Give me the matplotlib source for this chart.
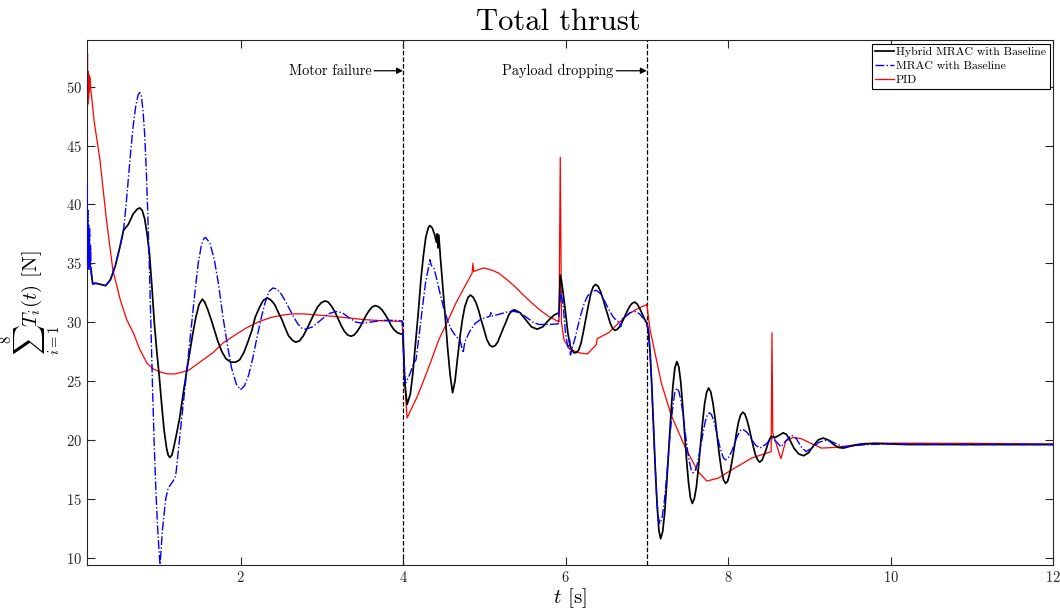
import matplotlib
matplotlib.use("Agg")
import matplotlib.pyplot as plt

plt.rcParams['font.family'] = 'serif'
plt.rcParams['font.serif'] = ['cmr10', 'DejaVu Serif']
plt.rcParams['mathtext.fontset'] = 'cm'
plt.rcParams['axes.formatter.use_mathtext'] = True

# ---------------- data ----------------
hyb_t = [0.11, 0.12, 0.13, 0.14, 0.16, 0.18, 0.22, 0.28, 0.34, 0.40, 0.46, 0.52, 0.56, 0.62, 0.68, 0.73, 0.76,
         0.79, 0.82, 0.85, 0.88, 0.91, 0.94, 0.97, 1.00, 1.03, 1.06, 1.09, 1.11, 1.13, 1.155, 1.18, 1.21,
         1.25, 1.29, 1.33, 1.37, 1.41, 1.45, 1.49, 1.53, 1.56, 1.60, 1.64, 1.68, 1.72, 1.77, 1.82, 1.88,
         1.94, 1.99, 2.04, 2.09, 2.14, 2.18, 2.23, 2.28, 2.33, 2.37, 2.42, 2.46, 2.51, 2.55, 2.59, 2.64,
         2.68, 2.725, 2.77, 2.815, 2.86, 2.905, 2.95, 2.995, 3.04, 3.08, 3.12, 3.16, 3.20, 3.24, 3.28, 3.32,
         3.36, 3.3975, 3.435, 3.4725, 3.51, 3.5475, 3.585, 3.6225, 3.66, 3.70, 3.74, 3.78, 3.82, 3.85, 3.89,
         3.93, 3.97, 4.00, 4.02, 4.05, 4.09, 4.12, 4.15, 4.19, 4.22, 4.25, 4.28, 4.31, 4.33, 4.36, 4.39,
         4.41, 4.42, 4.43, 4.44, 4.46, 4.49, 4.52, 4.55, 4.58, 4.61, 4.64, 4.67, 4.70, 4.73, 4.76, 4.80,
         4.83, 4.864, 4.898, 4.93, 4.965, 5.00, 5.03, 5.066, 5.10, 5.134, 5.168, 5.20, 5.235, 5.27, 5.30,
         5.336, 5.37, 5.44, 5.51, 5.58, 5.65, 5.72, 5.79, 5.86, 5.92, 5.935, 5.95, 5.97, 6.00, 6.03, 6.06,
         6.10, 6.13, 6.16, 6.19, 6.22, 6.25, 6.28, 6.31, 6.34, 6.37, 6.40, 6.43, 6.46, 6.49, 6.52, 6.55,
         6.58, 6.61, 6.64, 6.67, 6.70, 6.73, 6.76, 6.79, 6.82, 6.85, 6.88, 6.91, 6.94, 6.97, 7.00, 7.021,
         7.043, 7.064, 7.085, 7.106, 7.128, 7.149, 7.17, 7.195, 7.22, 7.245, 7.27, 7.295, 7.32, 7.345, 7.37,
         7.394, 7.418, 7.441, 7.465, 7.489, 7.513, 7.536, 7.56, 7.585, 7.61, 7.635, 7.66, 7.685, 7.71, 7.735,
         7.76, 7.786, 7.812, 7.839, 7.865, 7.891, 7.917, 7.944, 7.97, 7.996, 8.022, 8.049, 8.075, 8.101,
         8.128, 8.154, 8.18, 8.206, 8.232, 8.259, 8.285, 8.311, 8.338, 8.364, 8.39, 8.42, 8.46, 8.50, 8.53,
         8.58, 8.63, 8.68, 8.72, 8.76, 8.81, 8.87, 8.93, 8.99, 9.05, 9.11, 9.17, 9.23, 9.30, 9.36, 9.42,
         9.50, 9.60, 9.80, 10.2, 11.0, 12.0]
hyb_v = [38.0, 36.0, 37.5, 35.0, 34.5, 33.3, 33.3, 33.2, 33.1, 33.6, 34.8, 36.5, 37.8, 38.3, 39.2, 39.6, 39.7,
         39.5, 38.8, 37.5, 35.8, 33.0, 29.9, 27.5, 25.4, 23.0, 20.8, 19.3, 18.7, 18.5, 18.7, 19.4, 20.4,
         21.8, 23.7, 25.5, 27.2, 28.9, 30.4, 31.5, 31.95, 31.7, 31.0, 30.2, 29.3, 28.4, 27.5, 26.9, 26.6,
         26.6, 26.8, 27.4, 28.3, 29.3, 30.4, 31.2, 31.85, 32.05, 31.9, 31.5, 30.9, 30.2, 29.5, 28.85, 28.45,
         28.3, 28.4, 28.8, 29.4, 30.05, 30.7, 31.3, 31.65, 31.8, 31.7, 31.35, 30.9, 30.3, 29.7, 29.2, 28.9,
         28.8, 28.9, 29.2, 29.6, 30.1, 30.6, 31.0, 31.3, 31.4, 31.3, 31.05, 30.65, 30.2, 29.75, 29.35,
         29.1, 29.0, 28.95, 25.0, 23.0, 23.9, 25.6, 27.9, 31.0, 33.6, 35.6, 37.2, 38.0, 38.2, 38.0, 37.4,
         36.8, 37.5, 36.3, 37.4, 35.5, 33.0, 30.4, 27.7, 25.5, 24.0, 25.0, 26.9, 28.7, 30.2, 31.3, 32.1,
         32.3, 32.1, 31.65, 31.0, 30.1, 29.3, 28.55, 28.05, 27.9, 28.0, 28.35, 28.9, 29.5, 30.05, 30.6,
         30.95, 31.05, 30.8, 30.2, 29.6, 29.4, 29.6, 30.15, 30.6, 30.8, 34.0, 33.5, 32.5, 30.8, 29.0, 27.9,
         27.4, 27.4, 27.6, 28.2, 29.2, 30.3, 31.4, 32.4, 33.0, 33.2, 33.05, 32.6, 32.0, 31.25, 30.6, 29.9,
         29.45, 29.3, 29.4, 29.65, 30.05, 30.5, 30.95, 31.35, 31.6, 31.7, 31.55, 31.2, 30.75, 30.3, 29.9, 29.2,
         27.2, 24.2, 20.75, 17.3, 14.3, 12.3, 11.6, 12.2, 13.8, 16.3, 19.1, 22.0, 24.5, 26.1, 26.65,
         26.2, 24.9, 22.9, 20.6, 18.3, 16.4, 15.1, 14.6, 15.0, 16.0, 17.6, 19.5, 21.4, 23.0, 24.0,
         24.4, 24.1, 23.2, 21.9, 20.35, 18.8, 17.5, 16.6, 16.3, 16.5, 17.2, 18.2, 19.3, 20.5,
         21.5, 22.1, 22.35, 22.2, 21.7, 21.0, 20.2, 19.4, 18.7, 18.3, 18.1, 18.3, 19.0, 19.9, 20.3,
         20.2, 20.4, 20.6, 20.45, 20.0, 19.3, 18.8, 18.65, 18.9, 19.5, 20.0, 20.15, 20.0, 19.6, 19.35, 19.3,
         19.45, 19.6, 19.7, 19.6, 19.6, 19.6]

mrac_t = [0.11, 0.113, 0.118, 0.123, 0.128, 0.133, 0.138, 0.143, 0.148, 0.155, 0.162, 0.17, 0.184, 0.22,
          0.28, 0.34, 0.40, 0.46, 0.52, 0.56, 0.59, 0.62, 0.65, 0.68, 0.71, 0.74, 0.76, 0.78, 0.80, 0.82,
          0.84, 0.86, 0.88, 0.90, 0.92, 0.94, 0.96, 0.98, 1.00, 1.01, 1.04, 1.08, 1.11, 1.17, 1.20, 1.21,
          1.27, 1.33, 1.39, 1.44, 1.48, 1.52, 1.55, 1.57, 1.624, 1.678, 1.73, 1.785, 1.84, 1.89, 1.95, 2.00,
          2.05, 2.10, 2.15, 2.20, 2.25, 2.30, 2.35, 2.40, 2.45, 2.50, 2.55, 2.60, 2.65, 2.70, 2.75, 2.80,
          2.89, 2.985, 3.08, 3.17, 3.25, 3.33, 3.42, 3.50, 3.60, 3.75, 3.90, 3.99, 4.01, 4.03, 4.08, 4.13,
          4.16, 4.20, 4.24, 4.28, 4.31, 4.33, 4.35, 4.38, 4.41, 4.45, 4.50, 4.55, 4.60, 4.65, 4.70, 4.74,
          4.76, 4.82, 4.89, 4.95, 5.00, 5.07, 5.08, 5.09, 5.20, 5.30, 5.38, 5.45, 5.52, 5.60, 5.67, 5.80,
          5.91, 5.94, 5.97, 6.00, 6.03, 6.05, 6.06, 6.09, 6.12, 6.15, 6.19, 6.23, 6.27, 6.32, 6.38, 6.43,
          6.48, 6.53, 6.58, 6.63, 6.66, 6.68, 6.70, 6.74, 6.79, 6.86, 6.91, 6.96, 7.00, 7.02, 7.04, 7.06,
          7.08, 7.10, 7.12, 7.14, 7.16, 7.186, 7.213, 7.239, 7.265, 7.291, 7.318, 7.344, 7.37, 7.395, 7.42,
          7.445, 7.47, 7.495, 7.52, 7.545, 7.57, 7.595, 7.62, 7.645, 7.67, 7.695, 7.72, 7.745, 7.77, 7.795,
          7.82, 7.845, 7.87, 7.895, 7.92, 7.945, 7.97, 7.996, 8.022, 8.049, 8.075, 8.101, 8.128, 8.154, 8.18,
          8.232, 8.285, 8.338, 8.39, 8.46, 8.55, 8.60, 8.65, 8.71, 8.78, 8.84, 8.90, 8.96, 9.03, 9.12, 9.23,
          9.32, 9.42, 9.55, 9.70, 10.0, 11.0, 12.0]
mrac_v = [38.0, 41.8, 35.0, 39.5, 34.5, 38.2, 35.0, 38.0, 34.4, 36.5, 34.2, 33.6, 33.2, 33.3,
          33.2, 33.1, 33.6, 34.8, 36.5, 37.8, 39.8, 42.2, 44.6, 46.7, 48.3, 49.3, 49.5, 49.2, 48.0, 46.0,
          43.0, 39.0, 34.3, 29.0, 23.8, 19.2, 15.5, 12.5, 10.3, 9.4, 12.4, 15.0, 15.9, 16.5, 16.9, 17.4,
          21.4, 25.3, 29.3, 32.6, 35.0, 36.6, 37.1, 37.2, 36.7, 35.3, 33.2, 30.4, 28.0, 26.1, 24.7, 24.25,
          24.6, 25.5, 26.9, 28.6, 30.2, 31.6, 32.6, 32.9, 32.8, 32.4, 31.8, 31.15, 30.5, 29.9, 29.5, 29.4,
          29.6, 30.15, 30.7, 30.9, 30.8, 30.4, 30.0, 29.9, 30.0, 30.15, 30.15, 30.1, 27.0, 24.8, 25.5, 26.5,
          26.8, 29.0, 31.3, 33.5, 34.5, 35.3, 34.8, 34.6, 33.8, 32.6, 31.2, 30.1, 29.3, 28.8, 28.5, 27.4,
          28.3, 29.2, 29.9, 30.2, 30.35, 30.5, 30.8, 30.5, 30.7, 30.9, 30.9, 30.75, 30.4, 30.0, 29.8, 29.8,
          29.85, 32.6, 31.5, 29.0, 27.8, 28.5, 27.2, 28.0, 28.7, 29.6, 30.7, 31.6, 32.2, 32.6, 32.7, 32.4,
          31.8, 31.1, 30.5, 30.1, 30.0, 29.6, 30.3, 30.5, 30.8, 30.9, 30.7, 30.3, 29.9, 29.3, 27.4, 24.6,
          21.4, 18.2, 15.4, 13.5, 12.9, 13.3, 14.6, 16.5, 18.65, 20.8, 22.7, 24.0, 24.4, 24.1, 23.35,
          22.2, 20.8, 19.4, 18.25, 17.5, 17.2, 17.4, 17.9, 18.8, 19.75, 20.7, 21.6, 22.1, 22.3, 22.15,
          21.7, 21.1, 20.3, 19.5, 18.9, 18.45, 18.3, 18.4, 18.7, 19.1, 19.6, 20.1, 20.5, 20.8, 20.9,
          20.65, 20.1, 19.55, 19.3, 19.6, 20.15, 19.8, 19.4, 19.9, 20.4, 20.1, 19.4, 19.0, 19.3, 19.8, 20.0,
          19.7, 19.4, 19.5, 19.6, 19.65, 19.6, 19.6]

pid_t = [0.11, 0.113, 0.117, 0.121, 0.125, 0.13, 0.135, 0.14, 0.145, 0.15, 0.20, 0.27, 0.35, 0.43, 0.52,
         0.60, 0.68, 0.76, 0.85, 0.93, 1.02, 1.10, 1.19, 1.28, 1.37, 1.50, 1.66, 1.78, 1.91, 2.07, 2.23,
         2.38, 2.52, 2.65, 2.77, 2.95, 3.13, 3.33, 3.54, 3.80, 3.99, 4.02, 4.05, 4.10, 4.17, 4.24, 4.34,
         4.44, 4.55, 4.65, 4.75, 4.85, 4.86, 4.87, 4.99, 5.10, 5.18, 5.28, 5.38, 5.48, 5.59, 5.69, 5.79,
         5.87, 5.92, 5.935, 5.95, 5.98, 6.05, 6.16, 6.27, 6.38, 6.39, 6.53, 6.65, 6.76, 6.86, 7.00, 7.04,
         7.18, 7.30, 7.47, 7.63, 7.74, 7.88, 8.08, 8.29, 8.53, 8.54, 8.55, 8.60, 8.65, 8.71, 8.80, 8.90,
         9.02, 9.15, 9.30, 9.43, 9.68, 10.0, 11.0, 12.0]
pid_v = [54.5, 47.5, 52.8, 48.5, 51.3, 49.0, 51.0, 49.5, 50.8, 50.3, 47.0, 43.8, 38.7, 34.4, 31.9,
         30.2, 29.1, 27.7, 26.5, 26.0, 25.75, 25.6, 25.6, 25.75, 25.95, 26.6, 27.4, 28.2, 28.8, 29.5, 30.05,
         30.4, 30.6, 30.7, 30.7, 30.6, 30.5, 30.35, 30.2, 30.1, 30.05, 25.0, 21.85, 22.6, 23.6, 24.8, 26.6,
         28.5, 30.1, 31.6, 32.9, 34.15, 35.0, 34.3, 34.6, 34.4, 34.15, 33.6, 33.0, 32.3, 31.6, 31.0, 30.5,
         30.2, 30.0, 44.0, 30.0, 28.5, 27.7, 27.4, 27.3, 28.1, 28.6, 29.1, 29.9, 30.6, 31.05, 31.5, 29.35,
         24.8, 22.1, 19.4, 17.3, 16.5, 16.75, 17.6, 18.45, 19.0, 29.1, 20.6, 19.5, 18.4, 19.9, 20.2, 20.1,
         19.7, 19.3, 19.35, 19.45, 19.7, 19.72, 19.7, 19.65]

event_t = [4, 7]
event_labels = ['Motor failure', 'Payload dropping']
series_names = ['Hybrid MRAC with Baseline', 'MRAC with Baseline', 'PID']

# ---------------- figure ----------------
fig = plt.figure(figsize=(10.6, 6.11), dpi=100)
ax = fig.add_axes([0.082, 0.0753, 0.9115, 0.8592])

ax.plot(hyb_t, hyb_v, color='black', lw=1.25, label=series_names[0], zorder=3)
ax.plot(mrac_t, mrac_v, color='blue', lw=1.0, ls='-.', label=series_names[1], zorder=4)
ax.plot(pid_t, pid_v, color='red', lw=0.9, label=series_names[2], zorder=2)

for et in event_t:
    ax.axvline(et, color='black', ls='--', lw=0.9, zorder=1)

arrow_y = 51.35
ax.annotate(event_labels[0], xy=(event_t[0], arrow_y), xytext=(event_t[0] - 0.39, arrow_y),
            ha='right', va='center', fontsize=10.3,
            arrowprops=dict(arrowstyle='-|>', color='black', lw=0.9, mutation_scale=9,
                            shrinkA=0, shrinkB=0))
ax.annotate(event_labels[1], xy=(event_t[1], arrow_y), xytext=(event_t[1] - 0.41, arrow_y),
            ha='right', va='center', fontsize=10.3,
            arrowprops=dict(arrowstyle='-|>', color='black', lw=0.9, mutation_scale=9,
                            shrinkA=0, shrinkB=0))

ax.set_xlim(0.11, 12)
ax.set_ylim(9.37, 53.96)
ax.set_xticks([2, 4, 6, 8, 10, 12])
ax.set_yticks([10, 15, 20, 25, 30, 35, 40, 45, 50])
ax.tick_params(direction='in', top=True, right=True, length=6, width=0.8,
               labelsize=10.5, colors='#262626', labelcolor='#262626')
for s in ax.spines.values():
    s.set_color('#262626')
    s.set_linewidth(0.8)

ax.set_title('Total thrust', fontsize=22, pad=7, x=0.4876)
ax.set_xlabel(r'$t$ [s]', fontsize=15, labelpad=1)
ax.set_ylabel(r'$\sum_{i=1}^{8} T_i(t)$ [N]', fontsize=15, labelpad=2)

leg = ax.legend(loc='upper right', fontsize=8.5, frameon=True, fancybox=False,
                edgecolor='black', framealpha=1, borderpad=0.3, labelspacing=0.3,
                handlelength=1.6, handletextpad=0.15, borderaxespad=0.3)
leg.get_frame().set_linewidth(0.8)

fig.savefig('out.png', dpi=100)
